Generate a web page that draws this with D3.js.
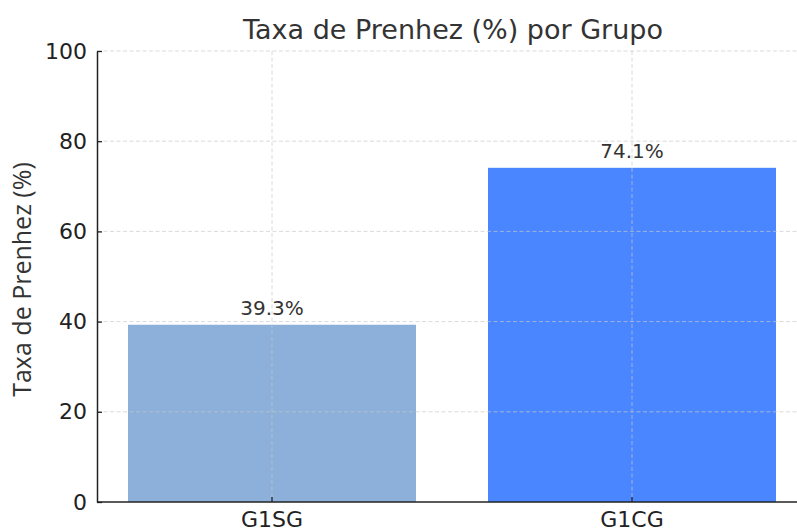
<!DOCTYPE html>
<html>
<head>
<meta charset="utf-8">
<script src="https://cdn.jsdelivr.net/npm/d3@7"></script>
<style>
  body { margin: 0; background: #fff; }
  svg { display: block; }
</style>
</head>
<body>
<div id="chart"></div>
<script>
// data
const groups = ["G1SG", "G1CG"];
const rates = [39.3, 74.1];
const barColors = ["#8cb0da", "#4a86ff"];
const yTicks = [0, 20, 40, 60, 80, 100];

const width = 797, height = 529;
const plotLeft = 97, plotTop = 51, plotBottom = 502;

const svg = d3.select("#chart").append("svg")
    .attr("width", width)
    .attr("height", height);

// axes extend past the right edge of the picture (cropped)
const x = d3.scaleBand().domain(groups).range([92, 812]).paddingInner(0.2).paddingOuter(0.1);
const y = d3.scaleLinear().domain([0, 100]).range([plotBottom, plotTop]);

// bars
svg.selectAll(".bar")
    .data(groups)
    .join("rect")
    .attr("class", "bar")
    .attr("x", d => x(d))
    .attr("width", x.bandwidth())
    .attr("y", (d, i) => y(rates[i]))
    .attr("height", (d, i) => plotBottom - y(rates[i]))
    .attr("fill", (d, i) => barColors[i]);

// grid on top of bars
const grid = svg.append("g")
    .attr("stroke", "#c8c8c8")
    .attr("stroke-opacity", 0.75)
    .attr("stroke-dasharray", "4,2.5")
    .attr("stroke-width", 0.9);
grid.selectAll(".hg")
    .data(yTicks.filter(d => d > 0))
    .join("line")
    .attr("x1", plotLeft).attr("x2", width)
    .attr("y1", d => y(d)).attr("y2", d => y(d));
grid.selectAll(".vg")
    .data(groups)
    .join("line")
    .attr("x1", d => x(d) + x.bandwidth() / 2).attr("x2", d => x(d) + x.bandwidth() / 2)
    .attr("y1", plotTop).attr("y2", plotBottom);

// y axis (ticks inward)
const yAxis = svg.append("g")
    .attr("transform", `translate(${plotLeft},0)`)
    .call(d3.axisLeft(y).tickValues(yTicks).tickSizeInner(-5).tickSizeOuter(0).tickPadding(10));
yAxis.select(".domain").attr("stroke", "#222").attr("stroke-width", 1.5);
yAxis.selectAll(".tick line").attr("stroke", "#222").attr("stroke-width", 1.3);
yAxis.selectAll(".tick text")
    .attr("fill", "#222")
    .attr("font-family", "DejaVu Sans")
    .attr("font-size", 22);

// x axis (ticks inward); labels run off the bottom edge as in the source
const xAxis = svg.append("g")
    .attr("transform", `translate(0,${plotBottom})`)
    .call(d3.axisBottom(x).tickSizeInner(-5).tickSizeOuter(0).tickPadding(9));
xAxis.select(".domain").attr("d", `M${plotLeft},0H${width}`).attr("stroke", "#222").attr("stroke-width", 1.5);
xAxis.selectAll(".tick line").attr("stroke", "#222").attr("stroke-width", 1.3);
xAxis.selectAll(".tick text")
    .attr("fill", "#222")
    .attr("font-family", "DejaVu Sans")
    .attr("font-size", 22);

// value labels
svg.selectAll(".val")
    .data(groups)
    .join("text")
    .attr("x", d => x(d) + x.bandwidth() / 2)
    .attr("y", (d, i) => y(rates[i]) - 10)
    .attr("text-anchor", "middle")
    .attr("font-family", "DejaVu Sans")
    .attr("font-size", 20)
    .attr("fill", "#333")
    .text((d, i) => rates[i].toFixed(1) + "%");

// title
svg.append("text")
    .attr("x", 453)
    .attr("y", 39)
    .attr("text-anchor", "middle")
    .attr("font-family", "DejaVu Sans")
    .attr("font-size", 27)
    .attr("fill", "#333")
    .text("Taxa de Prenhez (%) por Grupo");

// y label
svg.append("text")
    .attr("transform", `translate(31,${(plotTop + plotBottom) / 2 + 3}) rotate(-90)`)
    .attr("text-anchor", "middle")
    .attr("font-family", "Open Sans")
    .attr("font-size", 25)
    .attr("fill", "#333")
    .text("Taxa de Prenhez (%)");
</script>
</body>
</html>
